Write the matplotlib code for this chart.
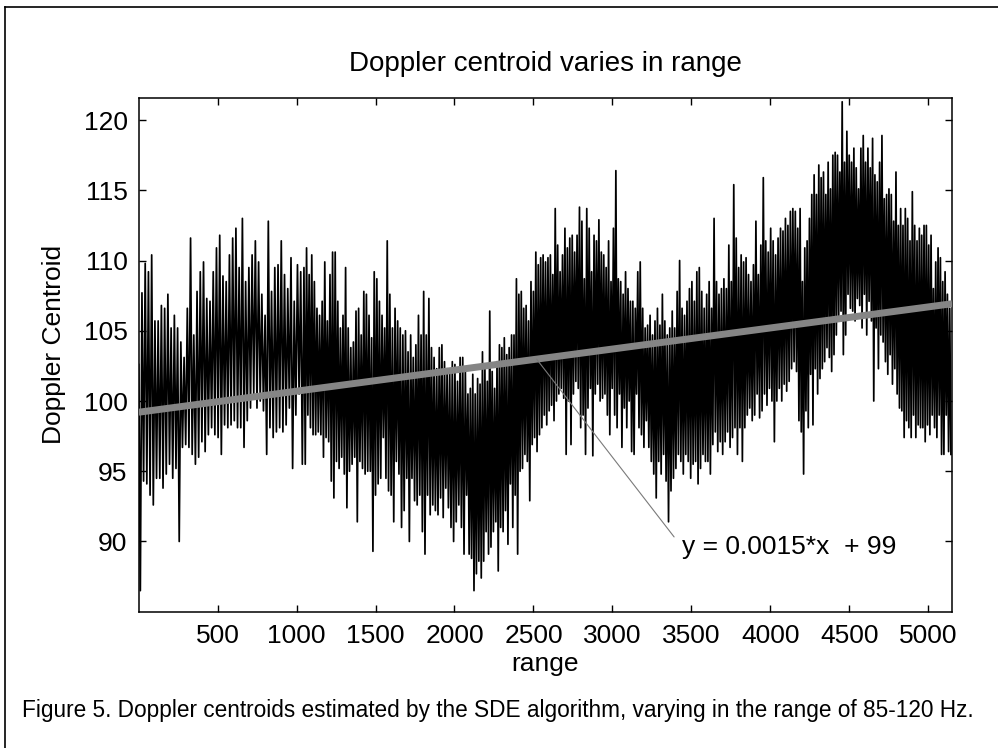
import numpy as np
import matplotlib.pyplot as plt
from matplotlib.lines import Line2D

# Doppler centroid estimates as (spike top, spike bottom) pairs
# five stretches of range, each pair list spread evenly over its stretch
seg_edges = [1, 1047, 2085, 3129, 4173, 5150]

seg1_hi = [102.6, 107.7, 109.8, 109.2, 110.4, 105.7, 105.7, 106.8, 106.6, 107.6,
           105.2, 106.1, 105.2, 104.2, 103.1, 106.6, 111.6, 104.7, 107.8, 109.2,
           109.9, 107.3, 107.1, 109.2, 110.9, 111.8, 108.9, 108.5, 110.4, 111.6,
           112.3, 109.5, 113.0, 108.5, 109.5, 110.4, 111.4, 109.9, 107.6, 106.1,
           112.8, 107.8, 109.5, 109.7, 111.4, 109.0, 108.0, 110.2, 107.1, 109.7,
           109.2]
seg1_lo = [86.5, 94.3, 94.1, 93.3, 92.6, 94.5, 94.5, 93.8, 94.8, 95.5,
           94.5, 95.2, 90.0, 96.7, 96.9, 96.7, 96.2, 95.5, 96.0, 97.1,
           96.4, 97.6, 98.1, 97.6, 97.4, 96.2, 98.3, 98.1, 98.3, 98.6,
           98.1, 98.1, 96.7, 98.6, 99.5, 100.5, 99.5, 100.0, 99.3, 96.2,
           98.1, 97.4, 97.8, 98.1, 97.8, 98.3, 99.5, 95.2, 99.0, 100.5,
           95.5]

seg2_hi = [109.5, 110.9, 109.0, 110.4, 108.5, 106.6, 106.1, 107.1, 109.9, 105.7,
           109.0, 110.6, 110.6, 107.1, 105.2, 106.1, 109.5, 105.2, 103.8, 104.2,
           106.4, 106.6, 104.7, 107.8, 107.6, 106.1, 104.5, 109.2, 108.7, 107.1,
           106.1, 105.2, 111.4, 107.6, 105.2, 106.6, 105.7, 105.2, 104.7, 105.0,
           103.5, 104.7, 103.1, 104.0, 106.1, 104.7, 107.8, 104.7, 107.3, 103.8,
           103.1, 102.3, 103.8, 104.0, 102.8, 102.3, 102.1, 102.8, 102.6, 101.4,
           103.1, 103.1, 102.3]
seg2_lo = [95.5, 99.0, 98.1, 97.6, 97.6, 97.8, 97.6, 96.0, 97.4, 97.1,
           94.3, 93.1, 95.7, 95.2, 96.0, 94.8, 92.4, 95.0, 95.5, 96.0,
           91.4, 95.7, 95.2, 94.8, 95.0, 95.0, 89.3, 93.3, 94.1, 94.5,
           97.4, 94.5, 93.6, 93.3, 91.4, 95.7, 94.8, 91.0, 92.2, 94.5,
           90.0, 94.5, 92.9, 92.6, 93.3, 90.7, 89.1, 93.3, 91.9, 92.6,
           92.2, 91.9, 93.1, 91.7, 93.8, 92.4, 91.0, 90.0, 91.4, 92.6,
           91.0, 89.1, 93.3]

seg3_hi = [100.5, 100.9, 101.9, 100.5, 101.6, 101.2, 103.5, 102.3, 101.4, 106.4,
           102.1, 100.9, 102.8, 104.0, 103.8, 104.5, 103.3, 103.8, 104.7, 104.7,
           108.7, 107.6, 107.8, 106.6, 106.8, 105.7, 108.5, 107.8, 110.6, 109.7,
           110.2, 110.4, 109.9, 110.2, 110.4, 109.0, 113.7, 111.1, 109.2, 110.4,
           112.3, 110.9, 111.6, 111.8, 110.6, 111.8, 113.8, 112.8, 108.7, 113.7,
           112.3, 109.2, 111.8, 111.4, 112.9, 110.6, 110.4, 109.5, 111.4, 108.5,
           112.3, 116.4, 108.7, 108.5, 107.6, 109.2, 108.0, 107.1]
seg3_lo = [89.1, 88.8, 86.5, 87.7, 88.6, 87.4, 88.6, 90.7, 89.1, 89.6,
           90.7, 91.4, 87.9, 91.0, 90.7, 92.2, 89.8, 94.1, 91.0, 93.3,
           89.1, 95.0, 95.2, 96.2, 95.7, 92.9, 96.9, 97.4, 96.4, 97.6,
           98.1, 99.0, 98.3, 99.3, 99.7, 98.6, 100.0, 100.5, 100.9, 100.2,
           96.2, 100.0, 96.9, 100.5, 101.4, 100.9, 98.1, 99.0, 96.2, 99.5,
           100.9, 96.1, 100.5, 101.2, 100.0, 100.2, 100.5, 99.0, 97.6, 100.9,
           99.0, 98.1, 100.5, 96.7, 99.5, 98.1, 100.0, 96.4]

seg4_hi = [107.1, 106.6, 109.2, 109.9, 106.6, 105.2, 105.4, 106.1, 104.7, 105.7,
           106.6, 105.4, 107.6, 105.7, 104.7, 105.2, 106.4, 105.2, 107.8, 110.0,
           106.6, 106.1, 107.1, 108.0, 108.5, 107.1, 109.2, 109.5, 107.8, 106.6,
           107.6, 108.5, 106.6, 113.0, 108.5, 107.6, 108.0, 108.7, 108.0, 111.1,
           108.5, 115.4, 111.6, 109.5, 110.4, 109.9, 110.2, 109.0, 108.5, 109.7,
           112.8, 109.0, 111.1, 115.9, 111.4, 110.6, 112.3, 111.4, 110.4, 111.6,
           112.3, 112.1, 113.0, 112.5, 113.5, 113.7, 113.5]
seg4_lo = [96.2, 100.5, 98.1, 97.6, 96.7, 98.6, 96.7, 95.7, 94.8, 93.1,
           95.7, 94.8, 96.2, 94.3, 91.4, 93.6, 94.5, 95.2, 96.2, 95.7,
           94.8, 96.2, 95.7, 94.5, 95.5, 95.7, 94.1, 95.2, 96.2, 95.7,
           95.7, 94.8, 96.9, 97.8, 96.4, 97.1, 96.2, 97.1, 97.8, 96.7,
           97.4, 98.1, 96.2, 98.1, 95.7, 98.1, 99.0, 99.5, 98.6, 99.0,
           100.5, 98.8, 99.3, 100.5, 99.7, 100.9, 100.0, 97.1, 100.0, 100.9,
           100.0, 101.2, 100.7, 101.4, 102.3, 102.8, 102.1]

seg5_hi = [112.3, 113.7, 108.5, 110.9, 111.4, 113.0, 114.7, 116.1, 114.7, 116.8,
           115.9, 116.3, 114.7, 117.0, 115.1, 117.5, 117.7, 117.5, 116.3, 121.3,
           117.0, 119.2, 117.5, 117.0, 118.0, 116.6, 115.1, 118.0, 118.9, 117.0,
           118.0, 116.6, 118.7, 116.1, 115.6, 117.0, 118.9, 114.4, 114.7, 115.1,
           114.7, 112.8, 116.3, 112.5, 113.7, 112.5, 113.7, 113.0, 111.4, 114.9,
           112.5, 111.4, 112.3, 111.8, 112.5, 112.5, 111.1, 111.8, 108.0, 109.9,
           110.9, 110.2, 108.5, 109.2, 107.6, 106.6]
seg5_lo = [98.6, 97.8, 94.8, 99.3, 98.1, 101.9, 98.3, 102.3, 100.5, 101.6,
           102.3, 102.8, 103.8, 103.1, 102.1, 103.3, 104.7, 105.9, 106.4, 103.3,
           104.7, 107.6, 106.6, 106.4, 105.7, 107.3, 106.8, 105.2, 107.6, 104.7,
           107.1, 105.7, 100.0, 105.2, 102.3, 104.7, 104.2, 102.8, 101.9, 103.3,
           101.2, 102.3, 100.5, 99.5, 99.3, 97.4, 98.6, 98.1, 97.4, 99.0,
           97.4, 98.3, 98.1, 98.1, 97.1, 98.3, 97.6, 99.0, 98.1, 97.4,
           99.0, 96.2, 96.2, 99.0, 96.4, 96.2]

# linear fit (label says y = 0.0015*x + 99)
fit_slope = 0.0015
fit_intercept = 99.2
fit_label = 'y = 0.0015*x  + 99'
label_at = 2520

his = [seg1_hi, seg2_hi, seg3_hi, seg4_hi, seg5_hi]
los = [seg1_lo, seg2_lo, seg3_lo, seg4_lo, seg5_lo]

xs, ys = [], []
for i in range(len(his)):
    n = len(his[i])
    y = np.empty(2 * n)
    y[0::2] = his[i]
    y[1::2] = los[i]
    xs.append(np.linspace(seg_edges[i], seg_edges[i + 1], 2 * n, endpoint=False))
    ys.append(y)
x = np.concatenate(xs)
y = np.concatenate(ys)

plt.rcParams['font.family'] = ['Liberation Sans', 'DejaVu Sans']

fig = plt.figure(figsize=(9.98, 7.48), dpi=100)
ax = fig.add_axes([0.139, 0.1822, 0.815, 0.6864])

ax.plot(x, y, color='black', lw=1.25, zorder=2)
xf = np.array([seg_edges[0], seg_edges[-1]])
ax.plot(xf, fit_slope * xf + fit_intercept, color='#858585', lw=5, solid_capstyle='butt', zorder=3)

ax.annotate(fit_label, xy=(label_at, fit_slope * label_at + fit_intercept),
            xytext=(3440, 89.6), ha='left', va='center', fontsize=19,
            arrowprops=dict(arrowstyle='-', color='#7a7a7a', lw=0.8,
                            shrinkA=6, shrinkB=0, relpos=(0, 0.5)), zorder=4)

ax.set_xlim(1, 5150)
ax.set_ylim(85, 121.55)
ax.set_xticks(np.arange(500, 5001, 500))
ax.set_yticks(np.arange(90, 121, 5))
ax.tick_params(direction='in', top=True, right=True, length=5, width=1, labelsize=19)
ax.tick_params(axis='x', pad=9)
ax.tick_params(axis='y', pad=8)
for s in ax.spines.values():
    s.set_linewidth(1.1)

ax.set_xlabel('range', fontsize=19)
ax.xaxis.set_label_coords(0.5, -0.078)
ax.set_ylabel('Doppler Centroid', fontsize=19)
ax.yaxis.set_label_coords(-0.089, 0.52)

fig.text(0.547, 1 - 64 / 748, 'Doppler centroid varies in range', ha='center', va='center', fontsize=20)
fig.text(22 / 998, 1 - 711 / 748,
         'Figure 5. Doppler centroids estimated by the SDE algorithm, varying in the range of 85-120 Hz.',
         ha='left', va='center', fontsize=16.3)

# page frame round the figure
fig.add_artist(Line2D([5 / 998, 1.0], [1 - 7 / 748, 1 - 7 / 748], transform=fig.transFigure, color='black', lw=1.2))
fig.add_artist(Line2D([5 / 998, 5 / 998], [0.0, 1 - 7 / 748], transform=fig.transFigure, color='black', lw=1.2))

fig.savefig('out.png', dpi=100)
